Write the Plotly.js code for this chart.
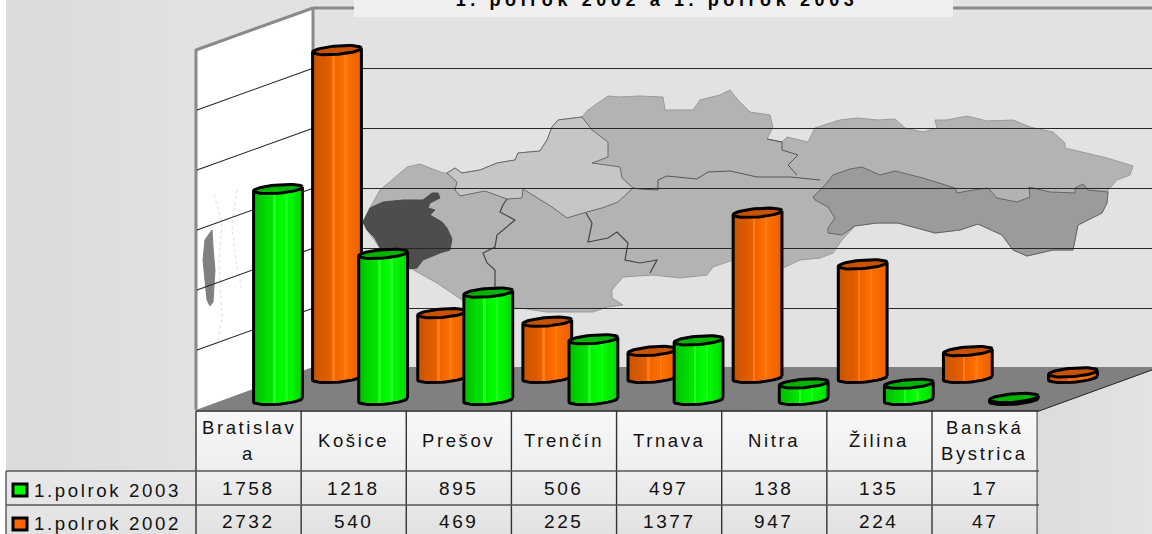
<!DOCTYPE html>
<html><head><meta charset="utf-8">
<script src="https://cdn.plot.ly/plotly-3.0.1.min.js"></script>
<style>
html,body{margin:0;padding:0;background:#fff;overflow:hidden}
#c{width:1152px;height:534px}
.annotation-text{letter-spacing:2.6px}
.gtitle{letter-spacing:4.6px}
</style></head><body><div id="c"></div>
<script>
const categories=['Bratislav\na','Košice','Prešov','Trenčín','Trnava','Nitra','Žilina','Banská\nBystrica'];
const series2003=[1758,1218,895,506,497,138,135,17];
const series2002=[2732,540,469,225,1377,947,224,47];
const seriesNames=['1.polrok 2003','1.polrok 2002'];
const gridValues=[500,1000,1500,2000,2500];

const W=1152,H=534;
const PXU=0.12, FLOOR=367, GRIDFLOOR=368.3, CAT=105.14, X0=278;
const yRange=[(FLOOR-H)/PXU,FLOOR/PXU];
const yWall=[(GRIDFLOOR-H)/PXU,GRIDFLOOR/PXU];
const xRange=[-X0/CAT,(W-X0)/CAT];
const X=p=>p/W, Y=p=>1-p/H;
const path=(pts,close)=>pts.map((p,i)=>(i?'L':'M')+X(p[0]).toFixed(5)+','+Y(p[1]).toFixed(5)).join(' ')+(close?' Z':'');
const shape=(pts,fill,line,lw,close=true,dash='solid')=>({type:'path',xref:'paper',yref:'paper',layer:'below',path:path(pts,close),
  fillcolor:fill||'rgba(0,0,0,0)',line:{color:line||'rgba(0,0,0,0)',width:line?lw:0,dash}});
const seg=(a,b,c,d,col,lw)=>({type:'line',xref:'paper',yref:'paper',layer:'below',x0:X(a),y0:Y(b),x1:X(c),y1:Y(d),line:{color:col,width:lw}});

// Decorative backdrop outlines (not data)
const outline=[[363,222],[370,208],[380,190],[392,180],[407,167],[420,164],[443,173],[447,173],[455,168],[462,173],[480,170],[497,163],[515,160],[518,153],[540,151],[547,140],[552,127],[558,120],[582,117],[588,110],[608,96],[620,97],[640,96],[663,97],[665,110],[693,110],[700,100],[720,95],[730,90],[738,100],[750,112],[770,115],[773,127],[767,139],[782,142],[787,137],[808,142],[815,128],[840,120],[857,118],[878,120],[895,119],[905,128],[923,132],[937,128],[935,120],[947,120],[967,116],[987,121],[1013,120],[1030,127],[1053,132],[1065,143],[1065,148],[1107,158],[1133,166],[1130,175],[1117,180],[1108,190],[1107,203],[1102,213],[1078,225],[1073,250],[1053,250],[1027,256],[1013,250],[1002,235],[978,224],[960,230],[935,233],[913,227],[898,223],[877,223],[855,226],[842,240],[833,253],[820,258],[800,260],[783,268],[733,260],[713,267],[707,275],[680,278],[653,275],[623,277],[612,290],[612,298],[623,305],[607,307],[593,312],[547,312],[513,307],[462,300],[437,283],[410,268],[380,248],[367,230]];
const trencin=[[447,173],[455,168],[462,173],[480,170],[497,163],[515,160],[518,153],[540,151],[547,140],[552,127],[558,120],[582,117],[592,130],[608,142],[608,157],[592,163],[620,167],[622,178],[633,188],[618,202],[602,208],[587,212],[567,218],[552,207],[523,189],[522,198],[507,199],[485,191],[460,196],[455,190],[457,182]];
const kosice=[[813,197],[825,185],[833,175],[850,169],[862,167],[880,175],[895,171],[923,178],[955,188],[957,193],[973,190],[988,188],[997,198],[1017,202],[1030,197],[1029,187],[1050,192],[1075,193],[1075,188],[1083,184],[1088,190],[1108,192],[1107,203],[1102,213],[1078,225],[1073,250],[1053,250],[1027,256],[1013,250],[1002,235],[978,224],[960,230],[935,233],[913,227],[898,223],[877,223],[855,226],[842,235],[828,233],[828,228],[835,218],[828,207],[815,200]];
const bratislava=[[363,222],[370,208],[383,202],[403,200],[423,200],[432,193],[438,193],[440,198],[430,203],[428,208],[435,210],[430,215],[442,222],[447,228],[452,239],[450,250],[440,253],[423,260],[417,268],[408,269],[380,248],[375,238],[367,230]];
const border1=[[820,180],[790,177],[757,177],[730,171],[708,172],[697,179],[667,176],[658,180],[658,190],[640,189],[633,188]];
const border2=[[586,213],[592,223],[588,242],[608,238],[617,232],[628,243],[625,260],[640,263],[657,260],[650,273]];
const border3=[[507,199],[503,205],[500,212],[515,220],[497,235],[495,247],[483,253],[487,263],[495,270],[495,287]];
const border4=[[767,139],[782,142],[782,150],[798,155],[788,165],[797,175]];
const sideBlob=[[212,230],[205,240],[203,260],[207,300],[210,306],[213,302],[215,270],[213,247]];
const sideSpeck1=[[214,195],[222,222],[219,262],[222,318],[217,345]];
const sideSpeck2=[[237,190],[232,225],[236,262],[242,290]];

const bg='data:image/svg+xml,'+encodeURIComponent(`<svg xmlns="http://www.w3.org/2000/svg" width="1152" height="534">
<defs>
<linearGradient id="l" x1="0" y1="0" x2="1" y2="0"><stop offset="0" stop-color="#dcdcdc"/><stop offset="0.2" stop-color="#dbdbdb"/><stop offset="1" stop-color="#e2e2e2"/></linearGradient>
<linearGradient id="r" x1="0" y1="0" x2="1" y2="0"><stop offset="0" stop-color="#dcdcdc"/><stop offset="1" stop-color="#e3e3e3"/></linearGradient>
<linearGradient id="t" x1="0" y1="0" x2="0" y2="1"><stop offset="0" stop-color="#f8f8f8"/><stop offset="0.5" stop-color="#eeeeee"/><stop offset="1" stop-color="#e2e2e2"/></linearGradient>
<linearGradient id="n" x1="0" y1="0" x2="0" y2="1"><stop offset="0" stop-color="#e8e8e8"/><stop offset="1" stop-color="#e2e2e2"/></linearGradient>
</defs>
<rect width="1152" height="534" fill="#fff"/>
<rect x="6" width="1146" height="534" fill="#e2e2e2"/>
<rect x="6" width="190" height="534" fill="url(#l)"/>
<rect x="1038" y="367" width="114" height="167" fill="url(#r)"/>
<rect x="196" y="411" width="842" height="123" fill="url(#t)"/>
<rect x="6" y="471" width="190" height="63" fill="url(#n)"/>
</svg>`);

const shapes=[
  shape([[196,50],[313,8],[313,367],[196,410]],'#ffffff'),
  shape(outline,'#b3b3b3','#9a9a9a',1),
  shape(trencin,'#c6c6c6','#6a6a6a',1),
  shape(kosice,'#9b9b9b','#666666',1),
  shape(bratislava,'#4d4d4d','#4d4d4d',1),
  shape(border1,null,'#555555',1,false),
  shape(border2,null,'#444444',1.2,false),
  shape(border3,null,'#444444',1.2,false),
  shape(border4,null,'#555555',1,false),
  shape(sideBlob,'#808080','#808080',1),
  shape(sideSpeck1,null,'#dcdcdc',1,false,'dot'),
  shape(sideSpeck2,null,'#dcdcdc',1,false,'dot'),
  shape([[196,410],[313,367],[1152,367],[1152,370],[1039,411]],'#808080'),
  seg(1039,411,1152,370,'#222222',1),
  seg(196,50,313,8,'#8a8a8a',3),
  seg(196,49,196,410,'#8a8a8a',3),
  seg(313,8,313,60,'#8a8a8a',3),
  seg(313,8,1152,8,'#8a8a8a',3),
  {type:'rect',xref:'paper',yref:'paper',layer:'below',x0:X(354),x1:X(953),y0:Y(0),y1:Y(17),fillcolor:'#f0f0f0',line:{width:0}},
];
// slanted side-wall gridlines, one for each back-wall gridline
gridValues.forEach(v=>{const d=v*PXU;shapes.push(seg(197,410-d,313,GRIDFLOOR-d,'#222222',1.1));});
// table rules
const colX=k=>196+CAT*k;
for(let k=0;k<=8;k++)shapes.push(seg(colX(k),411,colX(k),534,k===8?'#666666':'#333333',1.4));
shapes.push(seg(196,411,1039,411,'#222222',1.6));
shapes.push(seg(6,471,1039,471,'#555555',1.3));
shapes.push(seg(6,505,1039,505,'#555555',1.3));
shapes.push(seg(6,471,6,534,'#555555',1.4));
// legend keys inside the table
[[490,'#00ff00'],[524,'#ff6600']].forEach(([cy,col])=>shapes.push({type:'rect',xref:'paper',yref:'paper',layer:'below',
  x0:X(13),x1:X(27),y0:Y(cy-6),y1:Y(cy+6),fillcolor:col,line:{color:'#000',width:3}}));

const fontOf=size=>({family:'"Liberation Sans",Arial,sans-serif',size,color:'#111111'});
const note=(px,py,text,size,xanchor='center')=>({xref:'paper',yref:'paper',x:X(px),y:Y(py),text,showarrow:false,xanchor,yanchor:'middle',font:fontOf(size),align:'center'});
const annotations=[];
categories.forEach((c,i)=>{
  const cx=colX(i)+CAT/2, lines=c.split('\n');
  if(lines.length===2){annotations.push(note(cx,427,lines[0],18.5),note(cx,453,lines[1],18.5));}
  else annotations.push(note(cx,440,lines[0],18.5));
  annotations.push(note(cx,488.5,String(series2003[i]),19),note(cx,521,String(series2002[i]),19));
});
annotations.push(note(32,490,seriesNames[0],18.7,'left'),note(32,523.5,seriesNames[1],18.7,'left'));

function hex(stops,t){
  for(let i=1;i<stops.length;i++)if(t<=stops[i][0]){
    const [a,ca]=stops[i-1],[b,cb]=stops[i],f=(t-a)/(b-a);
    return 'rgb('+ca.map((v,k)=>Math.round(v+(cb[k]-v)*f)).join(',')+')';
  }
  return 'rgb('+stops[stops.length-1][1].join(',')+')';
}
const orangeStops=[[-1,[200,84,0]],[-.4,[222,92,0]],[.1,[250,104,0]],[.35,[255,112,0]],[1,[232,96,0]]];
const greenStops=[[-1,[0,190,0]],[-.4,[0,222,0]],[.1,[0,250,0]],[.35,[0,255,0]],[1,[0,215,0]]];
const lightOrange='rgb(255,124,22)', lightGreen='rgb(34,255,34)';

function cylinders(values,shift,depthPx,stops,capColor,sheen,ax,name){
  const hw=24.4,b=4.2,tilt=2,n=20;
  const xs=[],ys=[],bases=[],wid=[],cols=[];
  const capX=[],capY=[],edgeX=[],edgeY=[];
  const toX=(i,u)=>i+shift+u*hw/CAT;
  const off=(u,s)=>(s*b*Math.sqrt(Math.max(0,1-u*u))-tilt*u)/PXU;
  values.forEach((v,i)=>{
    const base=-depthPx/PXU;
    for(let k=0;k<n;k++){
      const u=-1+(2*k+1)/n;
      const lo=base-off(u,1), hi=base+v-off(u,0);
      xs.push(toX(i,u));bases.push(lo);ys.push(hi-lo);wid.push(2*hw/CAT/n*1.05);
      cols.push(k===8||k===13?sheen:hex(stops,u));
    }
    for(let k=0;k<=48;k++){
      const t=2*Math.PI*k/48,u=Math.cos(t),w=Math.sin(t);
      capX.push(toX(i,u));capY.push(base+v-(b*w-tilt*u)/PXU);
    }
    capX.push(null);capY.push(null);
    for(let k=0;k<=24;k++){
      const t=Math.PI*k/24,u=Math.cos(t),w=Math.sin(t);
      edgeX.push(toX(i,u));edgeY.push(base-(b*w-tilt*u)/PXU);
    }
    edgeX.push(toX(i,-1));edgeY.push(base+v-tilt/PXU);
    edgeX.push(null);edgeY.push(null);
    edgeX.push(toX(i,1));edgeY.push(base+tilt/PXU);
    edgeX.push(toX(i,1));edgeY.push(base+v+tilt/PXU);
    edgeX.push(null);edgeY.push(null);
  });
  const xa='x'+ax,ya='y'+ax;
  return [
    {type:'bar',name,x:xs,y:ys,base:bases,width:wid,marker:{color:cols,line:{width:0}},xaxis:xa,yaxis:ya,hoverinfo:'skip',showlegend:false},
    {type:'scatter',mode:'lines',x:edgeX,y:edgeY,line:{color:'#000',width:3},xaxis:xa,yaxis:ya,hoverinfo:'skip',showlegend:false,connectgaps:false},
    {type:'scatter',mode:'lines',x:capX,y:capY,fill:'toself',fillcolor:capColor,line:{color:'#000',width:3},xaxis:xa,yaxis:ya,hoverinfo:'skip',showlegend:false,connectgaps:false},
  ];
}
const hidden=(extra)=>Object.assign({visible:false,fixedrange:true},extra);
const data=[
  {type:'scatter',x:[],y:[],xaxis:'x',yaxis:'y',hoverinfo:'skip',showlegend:false},
  ...cylinders(series2002,59/CAT,11,orangeStops,'#c85200',lightOrange,2,seriesNames[1]),
  ...cylinders(series2003,0,33,greenStops,'#00b400',lightGreen,3,seriesNames[0]),
];
const layout={
  width:W,height:H,margin:{l:0,r:0,t:0,b:0},paper_bgcolor:'#fff',plot_bgcolor:'rgba(0,0,0,0)',
  barmode:'overlay',bargap:0,showlegend:false,hovermode:false,
  title:{text:'1. polrok 2002 a 1. polrok 2003',x:657/W,xanchor:'center',y:1.024,yanchor:'middle',
         font:{family:'"Liberation Sans",Arial,sans-serif',size:18,color:'#000',weight:700}},
  xaxis:{domain:[313/W,1],range:[0,1],showticklabels:false,ticks:'',showgrid:false,zeroline:false,showline:false,fixedrange:true,anchor:'y'},
  yaxis:{domain:[0,1],range:yWall,tickmode:'array',tickvals:gridValues,showticklabels:false,ticks:'',showgrid:true,gridcolor:'#262626',gridwidth:1,zeroline:false,showline:false,fixedrange:true,anchor:'x'},
  xaxis2:hidden({domain:[0,1],range:xRange,anchor:'y2'}),yaxis2:hidden({domain:[0,1],range:yRange,anchor:'x2'}),
  xaxis3:hidden({domain:[0,1],range:xRange,anchor:'y3'}),yaxis3:hidden({domain:[0,1],range:yRange,anchor:'x3'}),
  images:[{source:bg,xref:'paper',yref:'paper',x:0,y:1,sizex:1,sizey:1,sizing:'stretch',xanchor:'left',yanchor:'top',layer:'below'}],
  shapes,annotations
};
Plotly.newPlot('c',data,layout,{displayModeBar:false,staticPlot:true});
</script></body></html>
